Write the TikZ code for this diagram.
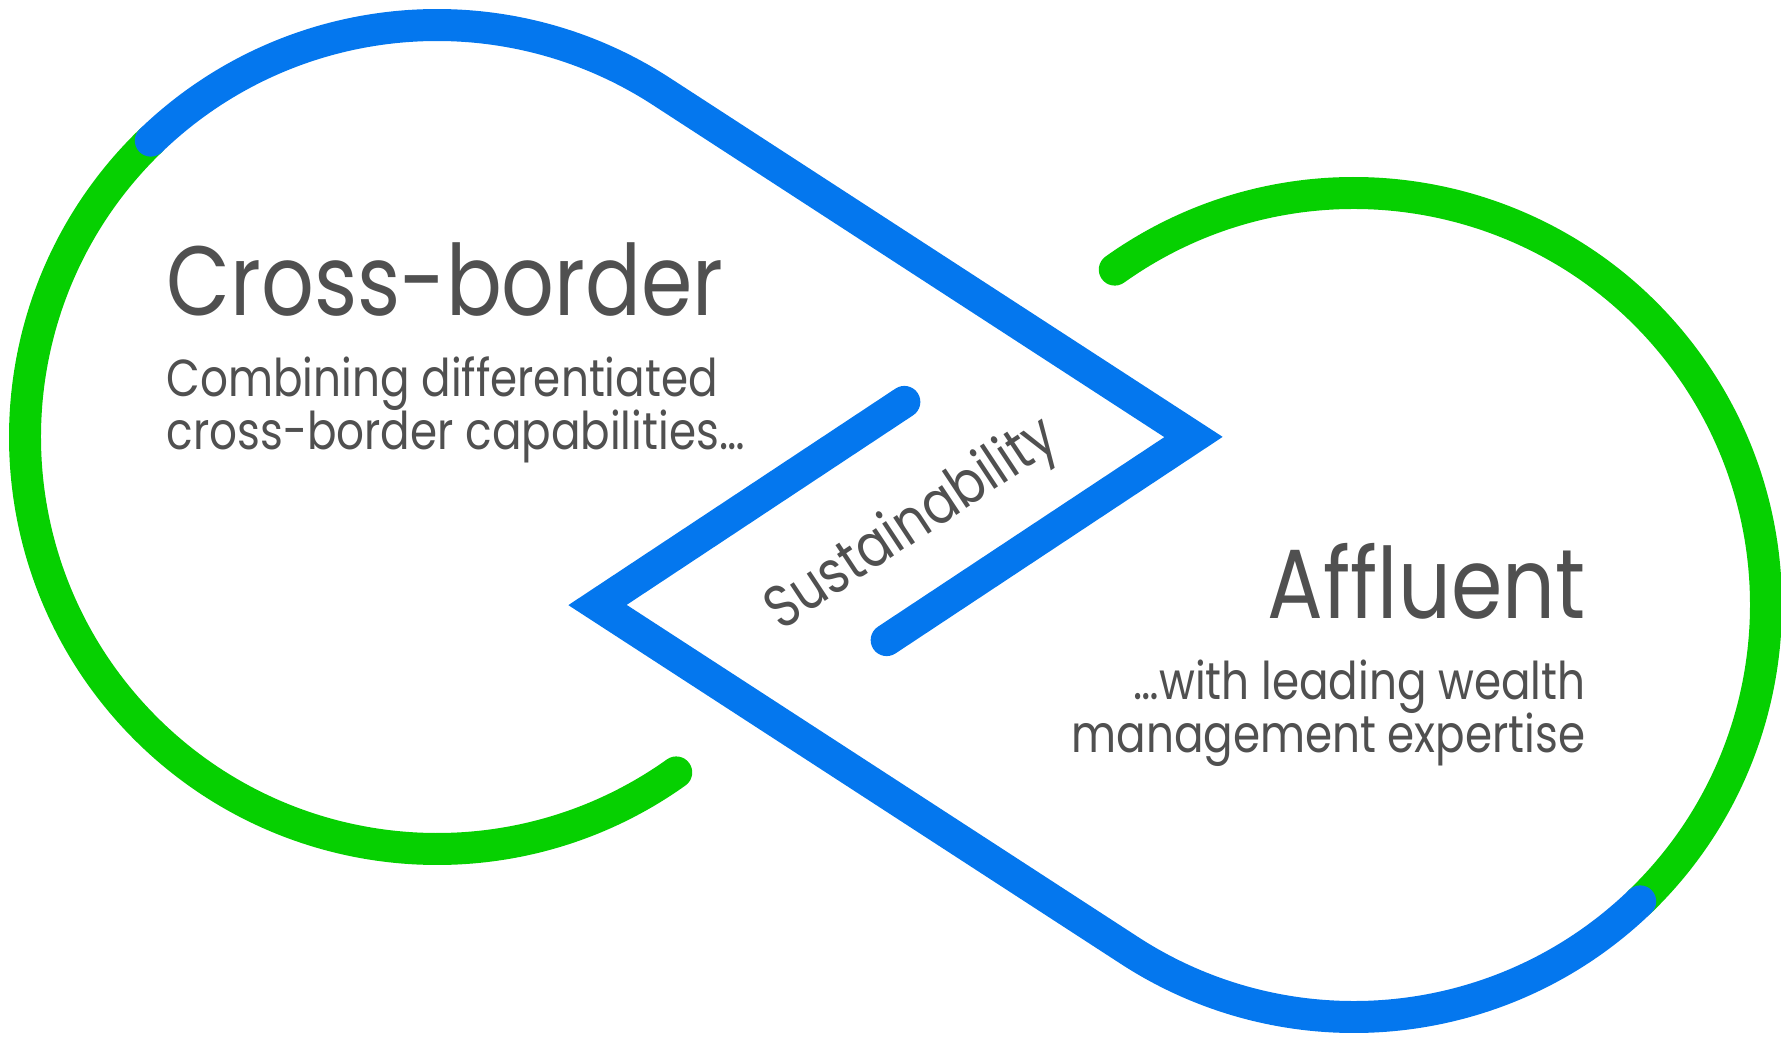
\documentclass[tikz,border=0pt]{standalone}
\usepackage{fontspec}
\setmainfont{Poppins}[FakeStretch=0.84]
\usetikzlibrary{calc}
\definecolor{ringblue}{HTML}{0477EE}
\definecolor{ringgreen}{HTML}{06D001}
\definecolor{textgrey}{HTML}{505050}
\newcommand\blurbfont{\fontsize{14.8}{14.8}\selectfont\lineskiplimit=-20pt\relax}
\tikzset{
	band/.style={line width=9.1pt,line cap=round,line join=miter,miter limit=10},
	heading/.style={text=textgrey,inner sep=0pt,font=\fontsize{28}{30}\selectfont},
	blurb/.style={text=textgrey,inner sep=0pt,font=\blurbfont},
}
\begin{document}
\begin{tikzpicture}
	\useasboundingbox (0,0) rectangle (17.81,10.38);
	\def\rr{4.12}
	\coordinate (L) at (4.37,6.01);
	\coordinate (R) at (13.54,4.33);
	\coordinate (tipR) at (11.935,6.01);
	\coordinate (tipL) at (5.975,4.33);
	\coordinate (endR) at ($(tipR)+(213.5:3.68)$);
	\coordinate (endL) at ($(tipL)+(33.5:3.68)$);
	%%%%%%%%
	\draw[band,ringgreen] ($(L)+(134:\rr)$) arc[start angle=134,end angle=305.5,radius=\rr];
	\draw[band,ringgreen] ($(R)+(125.5:\rr)$) arc[start angle=125.5,end angle=-46,radius=\rr];
	\draw[band,ringblue] ($(L)+(134:\rr)$) arc[start angle=134,end angle=57,radius=\rr] -- (tipR) -- (endR);
	\draw[band,ringblue] (endL) -- (tipL) -- ($(R)+(237:\rr)$) arc[start angle=237,end angle=314,radius=\rr];
	%%%%%%%%
	% base anchor of a two-line node sits on its last line
	\node[heading,anchor=base west] (cross) at (1.66,7.23) {Cross-border};
	\node[blurb,anchor=base west,align=left] (crosstext) at (1.66,5.89) {Combining differentiated\\cross-border capabilities…};
	\node[heading,anchor=base east] (affluent) at (15.86,4.20) {Affluent};
	\node[blurb,anchor=base east,align=right] (affluenttext) at (15.86,2.86) {…with leading wealth\\management expertise};
	\node[blurb,font=\fontsize{17}{17}\selectfont,rotate=33.5] (sustain) at (9.13,5.12) {Sustainability};
\end{tikzpicture}
\end{document}
